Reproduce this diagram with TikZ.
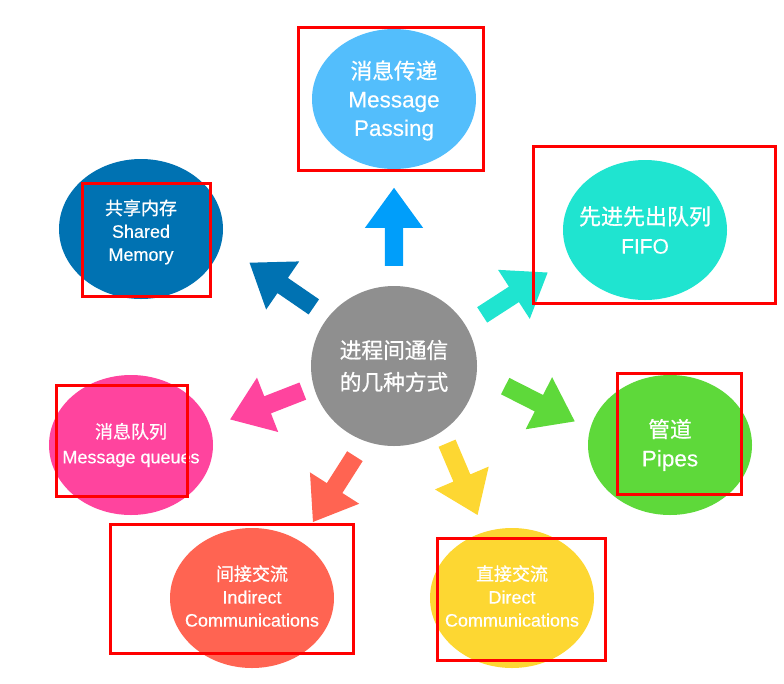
\documentclass[tikz,border=0pt]{standalone}
\usepackage{fontspec}
\setmainfont{Liberation Sans}[FakeBold=0.4]
\newfontfamily\cjk{Noto Sans CJK SC}[FakeBold=0.8]
\usepackage{tikz}
\usetikzlibrary{shapes.geometric,shapes.arrows}
\definecolor{coregray}{RGB}{143,143,143}
\definecolor{passblue}{RGB}{83,190,252}
\definecolor{uparrow}{RGB}{0,158,250}
\definecolor{shmblue}{RGB}{0,114,178}
\definecolor{fifoteal}{RGB}{31,228,208}
\definecolor{mqpink}{RGB}{255,68,158}
\definecolor{pipegreen}{RGB}{94,217,58}
\definecolor{indred}{RGB}{255,100,82}
\definecolor{diryellow}{RGB}{253,215,50}
\tikzset{
  way/.style    ={ellipse, minimum width=164pt, minimum height=140pt, inner sep=0pt},
  waytxt/.style ={align=center, text=white, inner sep=0pt, font=\fontsize{18}{23}\selectfont},
  bigtxt/.style ={waytxt, font=\fontsize{22.5}{28.5}\selectfont},
  fatarr/.style ={single arrow, anchor=tail, inner xsep=0pt, inner ysep=9pt, minimum height=78pt, minimum width=58pt, single arrow head extend=20pt, single arrow tip angle=72},
  redbox/.style ={draw=red, line width=3pt},
}

\begin{document}
\begin{tikzpicture}[x=1pt, y=-1pt]
  \useasboundingbox (0,0) rectangle (784,683);
  \node[way, fill=coregray, minimum width=166pt, minimum height=160pt,
        label={[waytxt, font=\cjk\fontsize{21.7}{32}\selectfont]center:进程间通信\\的几种方式}] (core) at (394,366) {};

  \node[way, fill=passblue,  label={[bigtxt, yshift=-1.5pt]center:{\cjk\fontsize{21.7}{28}\selectfont 消息传递}\\Message\\Passing}] (passing) at (394,99) {};
  \node[way, fill=shmblue,   label={[waytxt, yshift=-3pt]center:{\cjk 共享内存}\\Shared\\Memory}] (shmem) at (141,229) {};
  \node[way, fill=fifoteal,  label={[bigtxt, font=\fontsize{21}{29}\selectfont]center:{\cjk\fontsize{22}{29}\selectfont 先进先出队列}\\FIFO}] (fifo) at (645,230) {};
  \node[way, fill=mqpink,    label={[waytxt, font=\fontsize{18}{25}\selectfont]center:{\cjk 消息队列}\\Message queues}] (mqueue) at (131,445) {};
  \node[way, fill=pipegreen, label={[bigtxt, font=\fontsize{22.5}{29}\selectfont]center:{\cjk\fontsize{21.7}{29}\selectfont 管道}\\Pipes}] (pipes) at (670,445) {};
  \node[way, fill=indred,    label={[waytxt, yshift=2pt]center:{\cjk 间接交流}\\Indirect\\Communications}] (indirect) at (252,598) {};
  \node[way, fill=diryellow, label={[waytxt, yshift=2pt]center:{\cjk 直接交流}\\Direct\\Communications}] (direct) at (512,598) {};

  % fat arrows out of the core
  \node[fatarr, fill=uparrow,   rotate=90]     (aPass) at (394,266) {};
  \node[fatarr, fill=shmblue,   rotate=145.5]  (aShm)  at (314,307) {};
  \node[fatarr, fill=fifoteal,  rotate=32.9]   (aFifo) at (482,315) {};
  \node[fatarr, fill=mqpink,    rotate=201.3]  (aMq)   at (303,391) {};
  \node[fatarr, fill=pipegreen, rotate=-26.9]  (aPipe) at (505,386) {};
  \node[fatarr, fill=indred,    rotate=-122.5] (aInd)  at (355,456) {};
  \node[fatarr, fill=diryellow, rotate=-67]    (aDir)  at (447,443) {};

  % red marks
  \draw[redbox] (298,27) rectangle (483,170);
  \draw[redbox] (82,183) rectangle (210,296);
  \draw[redbox] (533,146) rectangle (775,303);
  \draw[redbox] (56,385) rectangle (187,496);
  \draw[redbox] (617,373) rectangle (741,494);
  \draw[redbox] (110,524) rectangle (353,653);
  \draw[redbox] (437,538) rectangle (605,660);
\end{tikzpicture}
\end{document}
